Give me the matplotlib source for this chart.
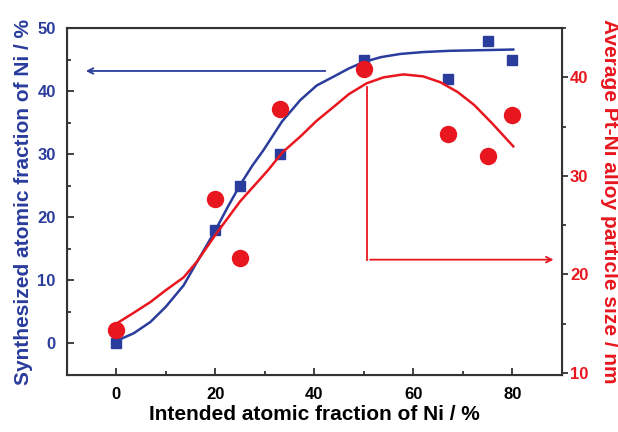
import numpy as np
import matplotlib
matplotlib.use("Agg")
import matplotlib.pyplot as plt
from matplotlib.ticker import MultipleLocator

plt.rcParams['font.family'] = ['Liberation Sans', 'DejaVu Sans']
plt.rcParams['font.weight'] = 'bold'

blue = '#2a3c9c'
red = '#e8161e'

# measured data
x_meas = [0, 20, 25, 33, 50, 67, 75, 80]
ni_synth = [0, 18, 25, 30, 45, 42, 48, 45]
size_nm = [14.4, 27.7, 21.7, 36.8, 40.8, 34.3, 32.0, 36.2]

# guide curves
x_fit_ni = [0, 3.5, 6.9, 10, 13.6, 16.3, 20, 22.5, 25, 27.5, 29.7, 33.5, 37.2, 40.5, 43.9,
            47, 49.9, 53.5, 57.4, 62, 67.5, 74, 80.2]
ni_fit = [0.4, 1.6, 3.4, 5.8, 9.2, 12.9, 17.9, 21.6, 25.1, 28.2, 30.6, 35.2, 38.6, 40.9, 42.3,
          43.6, 44.6, 45.4, 45.9, 46.2, 46.4, 46.5, 46.6]
x_fit_size = [0, 3.5, 6.9, 10, 13.6, 16.3, 20, 25, 30.7, 33.6, 37.2, 40.5, 43.9, 47, 50.6,
              54, 58, 62, 65.5, 69, 72.3, 76, 80.2]
size_fit = [15.0, 16.1, 17.2, 18.4, 19.7, 21.3, 24.0, 27.4, 30.6, 32.4, 34.0, 35.6, 37.0, 38.3,
            39.4, 40.0, 40.3, 40.1, 39.5, 38.5, 37.2, 35.3, 33.0]

fig = plt.figure(figsize=(6.18, 4.32), dpi=100)
ax = fig.add_axes([0.108, 0.132, 0.801, 0.803])
ax2 = ax.twinx()

ax.plot(x_fit_ni, ni_fit, color=blue, lw=1.8, zorder=3)
ax.plot(x_meas, ni_synth, 's', color=blue, ms=6.5, zorder=4)
ax2.plot(x_fit_size, size_fit, color=red, lw=1.8, zorder=3)
ax2.plot(x_meas, size_nm, 'o', color=red, ms=11.5, zorder=4)

# arrows pointing to the axes
ax.annotate('', xy=(-6.7, 43.2), xytext=(42.8, 43.2),
            arrowprops=dict(arrowstyle='->', color=blue, lw=1.3))
ax2.plot([50.7, 50.7], [39.0, 21.5], color=red, lw=1.3)
ax2.annotate('', xy=(88.9, 21.5), xytext=(50.7, 21.5),
             arrowprops=dict(arrowstyle='->', color=red, lw=1.3))

ax.set_xlim(-10, 90)
ax.set_ylim(-5, 50)
ax2.set_ylim(9.8, 45)

ax.xaxis.set_major_locator(MultipleLocator(20))
ax.xaxis.set_minor_locator(MultipleLocator(10))
ax.yaxis.set_major_locator(MultipleLocator(10))
ax.yaxis.set_minor_locator(MultipleLocator(5))
ax2.yaxis.set_major_locator(MultipleLocator(10))
ax2.yaxis.set_minor_locator(MultipleLocator(5))

ax.tick_params(axis='both', which='major', direction='in', length=5, width=1.3, labelsize=12)
ax.tick_params(axis='both', which='minor', direction='in', length=3, width=1.3)
ax.tick_params(axis='x', which='major', pad=9)
ax.tick_params(axis='y', which='major', pad=8)
ax.tick_params(axis='y', colors=blue, labelcolor=blue)
ax.tick_params(axis='y', which='both', color='#333333')
ax.tick_params(axis='x', which='both', color='#333333')
ax2.tick_params(axis='y', which='major', direction='out', length=4, width=1.3, pad=2,
                labelsize=12, color='#333333', labelcolor=red)
ax2.tick_params(axis='y', which='minor', direction='out', length=3, width=1.3, color='#333333')

for sp in ax2.spines.values():
    sp.set_linewidth(1.5)
    sp.set_color('#333333')

ax.set_xlabel('Intended atomic fraction of Ni / %', fontsize=15, fontweight='bold', labelpad=2)
ax.set_ylabel('Synthesized atomic fraction of Ni / %', fontsize=15, fontweight='bold',
              color=blue, labelpad=3)
ax2.set_ylabel('Average Pt-Ni alloy particle size / nm', fontsize=15, fontweight='bold',
               color=red, rotation=270, va='bottom', labelpad=8)

fig.savefig('out.png', dpi=100)
